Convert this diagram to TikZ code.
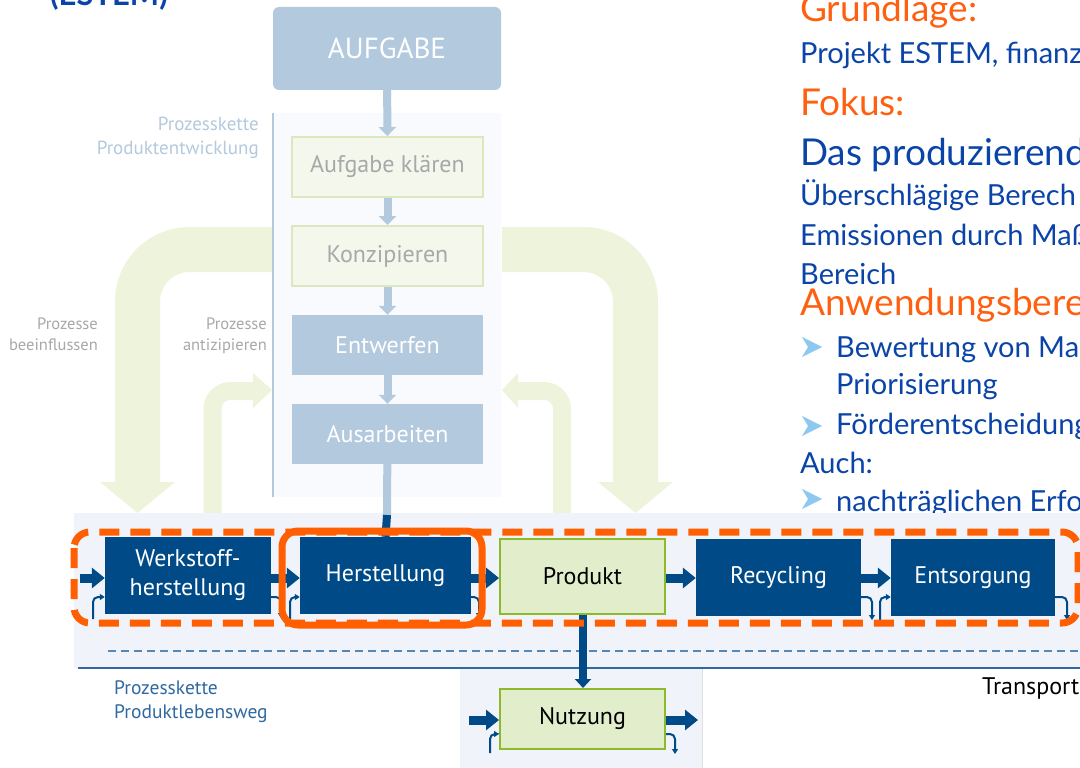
\documentclass[tikz,border=0pt]{standalone}
\usepackage{fontspec}
\setmainfont{PT Sans}
\newfontfamily\slidefont{Lato}
\usetikzlibrary{arrows.meta}

\definecolor{paleblue}{HTML}{B3C9DD}
\definecolor{panelbg}{HTML}{F8FAFD}
\definecolor{earlyfill}{HTML}{F4F7EC}
\definecolor{earlyline}{HTML}{DDE7BF}
\definecolor{archgreen}{HTML}{EEF3DC}
\definecolor{chainblue}{HTML}{004B87}
\definecolor{prodfill}{HTML}{E1EDCB}
\definecolor{prodline}{HTML}{8CBA2C}
\definecolor{bandbg}{HTML}{F0F3FA}
\definecolor{markorange}{HTML}{FF5F00}
\definecolor{textblue}{HTML}{0A44A8}
\definecolor{headorange}{HTML}{FF6010}
\definecolor{bulletblue}{HTML}{8CC8F0}
\definecolor{greylabel}{HTML}{A8A8A8}
\definecolor{lifeblue}{HTML}{2F69A1}

\tikzset{
  flowbox/.style={rectangle, inner sep=0pt, align=center,
    font=\fontsize{24}{29}\selectfont},
  earlybox/.style={flowbox, draw=earlyline, line width=2pt, fill=earlyfill,
    text=greylabel, minimum width=191pt, minimum height=60pt},
  latebox/.style={flowbox, fill=paleblue, text=white,
    minimum width=191pt, minimum height=60pt},
  chainbox/.style={flowbox, fill=chainblue, text=white, minimum height=77pt},
  prodbox/.style={flowbox, draw=prodline, line width=2pt, fill=prodfill,
    text=black, minimum width=165pt},
  paleline/.style={draw=paleblue, line width=8pt,
    -{Triangle[width=17pt,length=9pt]}},
  flow/.style={draw=chainblue, line width=9pt,
    -{Triangle[width=20pt,length=13pt]}},
  hook/.style={draw=chainblue, line width=2pt, rounded corners=5pt,
    -{Triangle[width=6pt,length=5pt]}},
  arch/.style={draw=archgreen},
  sidelabel/.style={align=right, text=greylabel, inner sep=0pt,
    font=\fontsize{16.5}{21}\selectfont},
  headline/.style={anchor=base west, inner sep=0pt, text=headorange,
    font=\slidefont\fontsize{37}{40}\selectfont},
  bodyline/.style={anchor=base west, inner sep=0pt, text=textblue,
    font=\slidefont\fontsize{29}{32}\selectfont}
}

\begin{document}
\begin{tikzpicture}[x=1pt, y=-1pt]
\useasboundingbox (0,0) rectangle (1080,768);
\clip (0,0) rectangle (1080,768);

% title, cut off by the top edge
\node[anchor=base west, inner sep=0pt, text=textblue,
  font=\slidefont\bfseries\fontsize{31}{36}\selectfont] (estem) at (50,6) {(ESTEM)};

% feedback arrows between the two chains
\draw[arch, line width=45pt, rounded corners=52pt] (272,249.5) -- (137.5,249.5) -- (137.5,483);
\fill[archgreen] (100,482) -- (175,482) -- (137.5,513) -- cycle;
\draw[arch, line width=45pt, rounded corners=52pt] (502,249.5) -- (635.5,249.5) -- (635.5,483);
\fill[archgreen] (598,482) -- (673,482) -- (635.5,513) -- cycle;
\draw[arch, line width=18pt, rounded corners=18pt] (212.5,514) -- (212.5,391) -- (254,391);
\fill[archgreen] (253,373) -- (272,390) -- (253,408) -- cycle;
\draw[arch, line width=18pt, rounded corners=18pt] (562,514) -- (562,391) -- (517,391);
\fill[archgreen] (518,373) -- (502,390) -- (518,408) -- cycle;

% product development chain
\fill[panelbg] (273,113) rectangle (501,497);
\draw[paleblue, line width=2pt] (273,113) -- (273,497);
\node[flowbox, fill=paleblue, text=white, rounded corners=6pt,
  minimum width=228pt, minimum height=83pt, font=\fontsize{29}{32}\selectfont]
  (aufgabe) at (387,48.5) {AUFGABE};
\node[earlybox] (klaeren) at (387.5,167) {Aufgabe klären};
\node[earlybox] (konzip) at (387.5,256) {Konzipieren};
\node[latebox] (entwurf) at (387.5,345) {Entwerfen};
\node[latebox] (ausarb) at (387.5,434) {Ausarbeiten};
\draw[paleline] (aufgabe) -- (klaeren);
\draw[paleline] (klaeren) -- (konzip);
\draw[paleline] (konzip) -- (entwurf);
\draw[paleline] (entwurf) -- (ausarb);

\node[anchor=north east, align=right, inner sep=0pt, text=paleblue,
  font=\fontsize{19}{24}\selectfont] (pkdev) at (259,117) {Prozesskette\\Produktentwicklung};
\node[sidelabel, anchor=north east] (beeinfl) at (98,318) {Prozesse\\beeinflussen};
\node[sidelabel, anchor=north east] (antizip) at (267,318) {Prozesse\\antizipieren};

% slide text on the right
\node[headline] (grundlage) at (800,22) {Grundlage:};
\node[bodyline] (projekt) at (800,64) {Projekt ESTEM, finanz};
\node[headline] (fokus) at (800,115) {Fokus:};
\node[bodyline, font=\slidefont\fontsize{37}{40}\selectfont] (sector) at (800,165) {Das produzierend};
\node[bodyline] (calc) at (800,205) {Überschlägige Berech};
\node[bodyline] (emis) at (800,245) {Emissionen durch Maß};
\node[bodyline] (bereich) at (800,284) {Bereich};
\node[headline] (anwend) at (800,315) {Anwendungsbere};
\node[bodyline] (bewert) at (836,357) {Bewertung von Ma};
\node[bodyline] (prio) at (836,394) {Priorisierung};
\node[bodyline] (foerder) at (836,434) {Förderentscheidung};
\node[bodyline] (auch) at (800,473) {Auch:};
\node[bodyline] (nachtr) at (836,511) {nachträglichen Erfo};
\foreach \y in {347,426,499}
  \fill[bulletblue] (802,\y-10) -- (822,\y) -- (802,\y+10) -- (808,\y) -- cycle;

% product life cycle band
\fill[bandbg] (74,513) rectangle (1080,668);
\fill[bandbg] (460,668) rectangle (702,768);
\draw[gray!25, line width=0.8pt] (702,669) -- (702,768);
\draw[lifeblue, line width=1.5pt] (78,668) -- (1080,668);
\draw[lifeblue!80, line width=1.2pt, dash pattern=on 8pt off 5pt] (108,651) -- (1080,651);

\node[chainbox, minimum width=166pt] (werkstoff) at (188,575.5) {Werkstoff-\\herstellung};
\node[chainbox, minimum width=171pt] (herst) at (385.5,575.5) {Herstellung};
\node[prodbox, minimum height=75pt] (produkt) at (582.5,576.5) {Produkt};
\node[chainbox, minimum width=165pt] (recycling) at (778.5,577.5) {Recycling};
\node[chainbox, minimum width=164pt] (entsorg) at (973,577.5) {Entsorgung};
\node[prodbox, minimum height=60pt] (nutzung) at (582.5,719) {Nutzung};

\coordinate (drop) at (387,515);
\draw[paleblue, line width=8pt] (ausarb) -- (drop);
\draw[chainblue, line width=8pt] (drop) -- (herst.north);

\coordinate (feedin) at (80,578);
\coordinate (usein) at (469,720);
\coordinate (useout) at (698,720);
\draw[flow] (feedin) -- (werkstoff.west |- feedin);
\draw[flow] (werkstoff.east |- feedin) -- (herst.west |- feedin);
\draw[flow] (herst.east |- feedin) -- (produkt.west |- feedin);
\draw[flow] (produkt.east |- feedin) -- (recycling.west |- feedin);
\draw[flow] (recycling.east |- feedin) -- (entsorg.west |- feedin);
\draw[flow] (usein) -- (nutzung.west |- usein);
\draw[flow] (nutzung.east |- useout) -- (useout);
\draw[chainblue, line width=8pt, -{Triangle[width=16pt,length=9pt]}]
  (produkt.south -| 583,0) -- (nutzung.north -| 583,0);

% small side flows
\draw[hook] (93,619) -- (93,597) -- (werkstoff.west |- 0,597);
\draw[hook] (werkstoff.east |- 0,597) -- (281,597) -- (281,618);
\draw[hook] (290,619) -- (290,597) -- (herst.west |- 0,597);
\draw[hook] (herst.east |- 0,597) -- (479,597) -- (479,618);
\draw[hook] (recycling.east |- 0,597) -- (872,597) -- (872,620);
\draw[hook] (880,620) -- (880,597) -- (entsorg.west |- 0,597);
\draw[hook] (entsorg.east |- 0,597) -- (1067,597) -- (1067,620);
\draw[hook] (490,753) -- (490,734) -- (nutzung.west |- 0,734);
\draw[hook] (nutzung.east |- 0,734) -- (675,734) -- (675,754);

% focus markings
\draw[markorange, line width=7pt, dash pattern=on 20pt off 11pt, rounded corners=16pt]
  (74,532) rectangle (1078,623);
\draw[markorange, line width=7pt, rounded corners=16pt] (282,531) rectangle (482,625);

\node[anchor=north west, align=left, inner sep=0pt, text=lifeblue,
  font=\fontsize{19.5}{24}\selectfont] (pklife) at (114,680) {Prozesskette\\Produktlebensweg};
\node[anchor=west, inner sep=0pt, font=\fontsize{24}{28}\selectfont] (transport) at (982,688) {Transport};
\end{tikzpicture}
\end{document}
